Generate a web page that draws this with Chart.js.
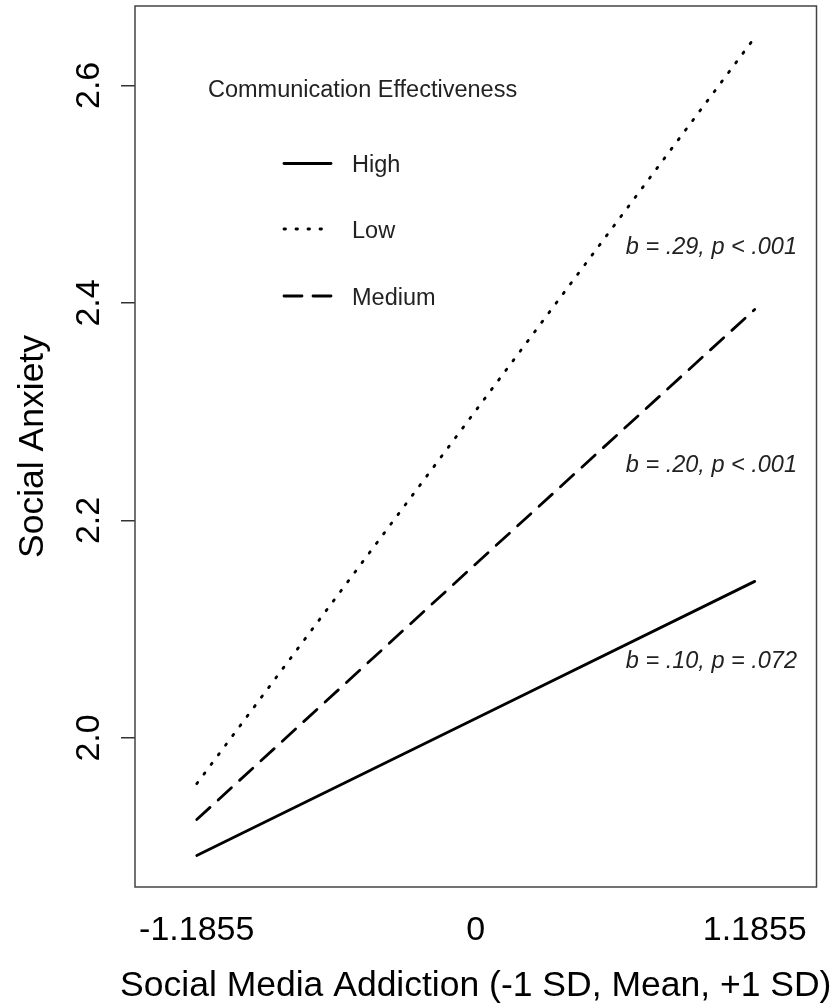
<!DOCTYPE html>
<html>
<head>
<meta charset="utf-8">
<script src="https://cdn.jsdelivr.net/npm/chart.js@4.4.1/dist/chart.umd.min.js"></script>
<style>
  body { margin: 0; background: #fff; }
  canvas { display: block; }
</style>
</head>
<body>
<canvas id="plot" width="836" height="1003"></canvas>
<script>
// x positions: -1 SD, mean, +1 SD of social media addiction
const categories = [-1.1855, 0, 1.1855];
const xTickLabels = ['-1.1855', '0', '1.1855'];
const yTicks = [2.0, 2.2, 2.4, 2.6];

const groupNames = ['High', 'Low', 'Medium'];
const highValues = [1.892, 2.018, 2.144];
const lowValues = [1.958, 2.301, 2.644];
const mediumValues = [1.925, 2.160, 2.394];

const slopeLabels = ['b = .29, p < .001', 'b = .20, p < .001', 'b = .10, p = .072'];
const legendTitle = 'Communication Effectiveness';
const xTitle = 'Social Media Addiction (-1 SD, Mean, +1 SD)';

const FONT = '"Liberation Sans", Arial, Helvetica, sans-serif';
const dashes = [[], [1.5, 10.5], [18, 11]];

function points(vals) {
  return categories.map((x, i) => ({ x: x, y: vals[i] }));
}

const boxPlugin = {
  id: 'box',
  afterDatasetsDraw(chart) {
    const { ctx, chartArea: a } = chart;
    ctx.save();
    ctx.strokeStyle = '#444';
    ctx.lineWidth = 1.5;
    ctx.strokeRect(a.left, a.top, a.right - a.left, a.bottom - a.top);
    ctx.restore();
  }
};

const legendPlugin = {
  id: 'rlegend',
  afterDraw(chart) {
    const { ctx, chartArea: a } = chart;
    const sets = chart.data.datasets;
    ctx.save();
    ctx.fillStyle = '#222';
    ctx.font = '23.5px ' + FONT;
    ctx.textBaseline = 'alphabetic';
    ctx.textAlign = 'left';
    ctx.fillText(legendTitle, a.left + 73, 97);
    const rows = [172, 238, 305];
    const lineY = [163.5, 229, 296];
    sets.forEach((ds, i) => {
      ctx.save();
      ctx.strokeStyle = ds.borderColor;
      ctx.lineWidth = ds.borderWidth;
      ctx.lineCap = 'round';
      ctx.setLineDash(ds.borderDash);
      ctx.beginPath();
      ctx.moveTo(a.left + 149, lineY[i]);
      ctx.lineTo(a.left + 196, lineY[i]);
      ctx.stroke();
      ctx.restore();
      ctx.fillText(ds.label, a.left + 217, rows[i]);
    });

    // simple-slope notes
    ctx.font = 'italic 23.5px ' + FONT;
    ctx.textAlign = 'right';
    const noteY = [253.5, 471.5, 667.5];
    slopeLabels.forEach((t, i) => ctx.fillText(t, a.right - 19.5, noteY[i]));

    // x axis title, wider than the plot box like in R
    ctx.fillStyle = '#000';
    ctx.font = '35.5px ' + FONT;
    ctx.textAlign = 'center';
    ctx.textBaseline = 'middle';
    ctx.fillText(xTitle, (a.left + a.right) / 2, 986);
    ctx.restore();
  }
};

new Chart(document.getElementById('plot'), {
  type: 'line',
  data: {
    datasets: [
      { label: groupNames[0], data: points(highValues), borderDash: dashes[0] },
      { label: groupNames[1], data: points(lowValues), borderDash: dashes[1] },
      { label: groupNames[2], data: points(mediumValues), borderDash: dashes[2] }
    ].map(d => Object.assign(d, {
      borderColor: '#000',
      borderWidth: 2.8,
      borderCapStyle: 'round',
      pointRadius: 0,
      fill: false,
      tension: 0
    }))
  },
  options: {
    responsive: false,
    animation: false,
    devicePixelRatio: 1,
    layout: { padding: { top: 6, right: 19.5, left: 0, bottom: 0 } },
    plugins: { legend: { display: false }, tooltip: { enabled: false } },
    scales: {
      x: {
        type: 'linear',
        min: -1.448,
        max: 1.448,
        afterBuildTicks: s => { s.ticks = categories.map(v => ({ value: v })); },
        afterFit: s => { s.height = 116; s.paddingLeft = 0; s.paddingRight = 0; },
        grid: { display: false },
        border: { display: false },
        ticks: {
          maxRotation: 0,
          padding: 15,
          color: '#000',
          font: { family: FONT, size: 34 },
          callback: (v, i) => xTickLabels[i]
        },
        title: { display: false }
      },
      y: {
        min: 1.863,
        max: 2.673,
        afterBuildTicks: s => { s.ticks = yTicks.map(v => ({ value: v })); },
        afterFit: s => { s.width = 135; s.paddingTop = 0; s.paddingBottom = 0; },
        grid: {
          drawOnChartArea: false,
          drawTicks: true,
          tickLength: 14,
          color: '#333',
          lineWidth: 1.5
        },
        border: { display: false },
        ticks: {
          minRotation: 90,
          maxRotation: 90,
          crossAlign: 'center',
          padding: 8,
          color: '#000',
          font: { family: FONT, size: 34 },
          callback: v => v.toFixed(1)
        },
        title: {
          display: true,
          text: 'Social Anxiety',
          color: '#000',
          font: { family: FONT, size: 35.5, lineHeight: 1 },
          padding: { top: 15, bottom: 0 }
        }
      }
    }
  },
  plugins: [boxPlugin, legendPlugin]
});
</script>
</body>
</html>
